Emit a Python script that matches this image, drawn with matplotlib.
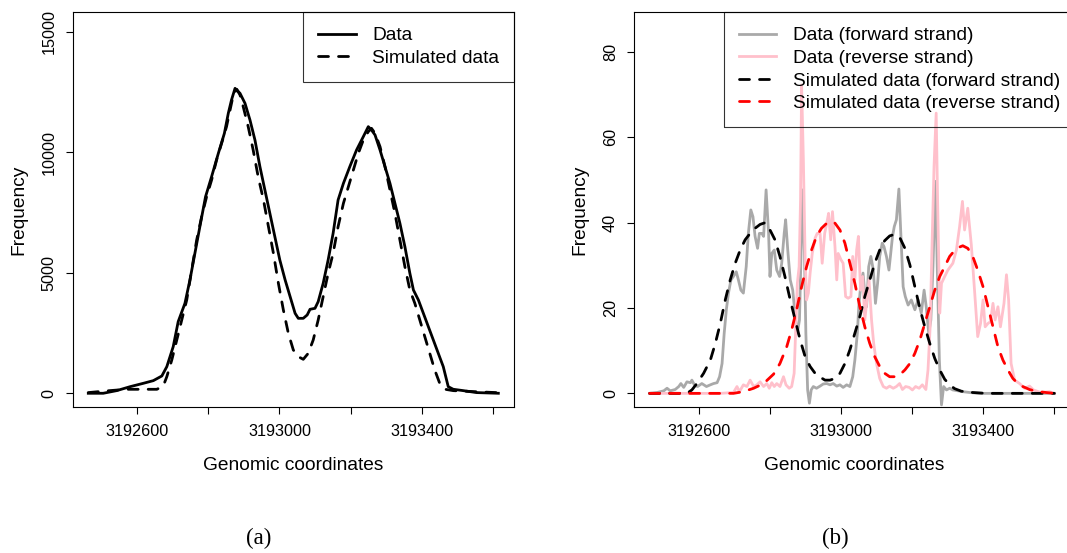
import numpy as np
import matplotlib
matplotlib.use("Agg")
import matplotlib.pyplot as plt

plt.rcParams['font.family'] = ['Liberation Sans', 'DejaVu Sans']

BASE = 3192000

# (a) total read coverage, observed vs simulated
cov_pos = BASE + np.array([462, 504, 542, 580, 617, 645, 669, 683, 701, 715, 734, 748, 762, 776, 792, 809, 828, 845,
                           856, 865, 875, 889, 903, 917, 931, 945, 959, 973, 987, 1001, 1016, 1030, 1044, 1053,
                           1067, 1078, 1086, 1100, 1109, 1123, 1137, 1151, 1165, 1180, 1198, 1217, 1236, 1250,
                           1259, 1269, 1283, 1297, 1311, 1325, 1339, 1353, 1367, 1377, 1391, 1405, 1419, 1433,
                           1447, 1461, 1475, 1489, 1517, 1555, 1616])
cov_freq = [0, 0, 110, 275, 414, 524, 718, 1105, 1935, 2972, 3733, 4700, 5807, 6914, 8158, 8988, 9956, 10786,
            11616, 12169, 12653, 12446, 12031, 11340, 10509, 9403, 8435, 7467, 6499, 5531, 4700, 4009, 3318, 3110,
            3110, 3249, 3484, 3525, 3802, 4562, 5531, 6637, 8020, 8711, 9403, 10095, 10648, 11063,
            10924, 10717, 10095, 9403, 8711, 7882, 7052, 6084, 4978, 4286, 3871, 3318, 2765, 2212,
            1658, 1105, 275, 166, 110, 28, 0]

sim_pos = BASE + np.array([462, 523, 570, 617, 655, 673, 683, 697, 711, 725, 739, 753, 767, 781, 795, 809, 823, 840,
                           851, 861, 870, 880, 889, 898, 912, 926, 940, 955, 969, 983, 997, 1011, 1025, 1039,
                           1053, 1067, 1081, 1095, 1109, 1123, 1137, 1151, 1165, 1180, 1194, 1208, 1222, 1236,
                           1250, 1259, 1269, 1283, 1297, 1311, 1325, 1339, 1353, 1367, 1381, 1395, 1409, 1423,
                           1437, 1451, 1466, 1489, 1545, 1611])
sim_freq = [28, 110, 165, 165, 165, 303, 690, 1382, 2212, 3041, 3871, 5116, 6360, 7328, 8158, 8850, 9680, 10509,
            11063, 11754, 12376, 12612, 12376, 11892, 11063, 10095, 8988, 8020, 6914, 5807, 4562, 3456, 2488, 1797,
            1520, 1409, 1658, 2212, 3041, 4009, 4977, 5807, 6914, 7882, 8573, 9265, 9956, 10509,
            10855, 10993, 10786, 10233, 9403, 8435, 7467, 6360, 5254, 4286, 3733, 3041, 2350, 1658,
            967, 414, 166, 110, 69, 28]

# (b) strand-specific coverage
fwd_pos = BASE + np.array([462, 483, 502, 511, 520, 534, 544, 550, 558, 567,
                           577, 581, 588, 597, 609, 622, 633, 642, 652, 659,
                           666, 672, 678, 684, 691, 698, 706, 712, 719, 726,
                           734, 740, 747, 753, 759, 766, 771, 778, 783, 790,
                           797, 801, 806, 813, 820, 828, 834, 841, 845, 851,
                           858, 865, 872, 878, 884, 888, 893, 898, 902, 907,
                           912, 917, 923, 932, 942, 951, 961, 970, 979, 989,
                           998, 1007, 1017, 1026, 1034, 1040, 1047, 1051, 1057, 1063,
                           1068, 1073, 1079, 1085, 1092, 1098, 1104, 1110, 1117, 1122,
                           1129, 1136, 1141, 1146, 1151, 1157, 1164, 1169, 1176, 1182,
                           1190, 1199, 1209, 1218, 1227, 1235, 1241, 1248, 1254, 1260,
                           1267, 1272, 1278, 1284, 1290, 1298, 1307, 1316, 1330, 1344,
                           1363, 1391, 1457, 1602])
fwd_freq = [0, 0.2, 0.6, 1.2, 0.6, 0.9, 1.6, 2.3, 1.4, 2.7,
            2.5, 3.1, 2.0, 1.6, 2.3, 1.6, 2.0, 2.3, 2.5, 3.9,
            7.0, 14.1, 19.6, 23.5, 26.6, 27.4, 28.5, 26.6, 24.2, 23.5,
            29.7, 37.5, 43.0, 41.4, 36.8, 34.0, 37.5, 37.5, 36.8, 47.7,
            37.5, 27.4, 32.8, 33.6, 28.9, 27.4, 30.5, 37.5, 40.7, 33.6,
            26.6, 24.2, 18.0, 14.1, 17.2, 31.3, 47.7, 32.8, 14.1, 0.8,
            -2.3, 0.8, 1.6, 1.2, 1.7, 2.2, 2.3, 2.0, 2.3, 1.7,
            2.0, 1.4, 2.0, 1.6, 3.9, 7.8, 14.1, 20.3, 25.8, 28.2,
            23.5, 20.3, 29.7, 32.1, 28.9, 21.1, 25.8, 32.1, 35.2, 34.4,
            32.1, 28.9, 32.8, 36.8, 39.1, 40.7, 47.9, 38.3, 25.0, 22.7,
            20.7, 21.9, 19.6, 21.9, 18.8, 24.2, 20.3, 14.1, 17.2, 29.7,
            49.7, 29.7, 7.8, -2.7, 1.6, 0.8, 1.2, 0.8, 0.6, 0.4,
            0.2, 0, 0, 0]

rev_pos = BASE + np.array([462, 567, 661, 698, 708, 715, 726, 736, 745, 755,
                           764, 773, 783, 792, 799, 806, 813, 820, 829, 839,
                           846, 855, 862, 869, 873, 878, 883, 887, 890, 895,
                           900, 904, 909, 914, 920, 928, 934, 942, 948, 955,
                           961, 966, 972, 977, 984, 989, 993, 1001, 1007, 1014,
                           1021, 1029, 1034, 1040, 1045, 1050, 1056, 1062, 1068, 1075,
                           1080, 1087, 1093, 1101, 1110, 1120, 1129, 1138, 1148, 1157,
                           1166, 1174, 1183, 1193, 1202, 1211, 1221, 1230, 1240, 1246,
                           1252, 1257, 1263, 1269, 1273, 1279, 1284, 1293, 1302, 1316,
                           1326, 1335, 1343, 1349, 1358, 1368, 1377, 1386, 1394, 1401,
                           1407, 1415, 1422, 1429, 1435, 1443, 1450, 1460, 1467, 1473,
                           1480, 1490, 1504, 1518, 1532, 1543, 1564, 1588, 1602])
rev_freq = [0, 0, 0, 0.2, 1.6, 0.4, 2.0, 1.6, 3.1, 1.6,
            2.0, 2.7, 1.6, 2.3, 1.2, 2.5, 1.6, 2.3, 1.6, 3.9,
            2.0, 1.2, 1.6, 4.7, 14.1, 25.8, 29.7, 45.4, 72.3, 54.7,
            31.3, 21.9, 23.5, 28.2, 32.8, 36.4, 37.5, 37.5, 30.5, 37.5,
            39.9, 42.2, 36.0, 42.6, 34.4, 26.6, 32.8, 31.3, 30.5, 22.7,
            22.3, 22.7, 32.1, 26.6, 33.6, 36.8, 24.2, 27.4, 17.2, 22.7,
            26.6, 17.2, 11.7, 7.0, 3.5, 1.6, 1.2, 1.7, 1.2, 1.6,
            2.3, 0.9, 1.6, 1.4, 0.8, 1.6, 1.2, 2.0, 0.9, 5.5,
            15.6, 33.6, 53.2, 65.7, 45.4, 18.8, 25.8, 27.4, 28.9, 30.5,
            33.6, 39.1, 45.0, 38.3, 43.4, 34.8, 24.2, 13.3, 16.4, 21.9,
            15.6, 16.4, 16.8, 21.1, 17.2, 20.3, 15.6, 21.1, 27.8, 21.9,
            7.0, 3.1, 2.3, 1.2, 1.7, 0.8, 0.2, 0.4, 0]

sim_fwd_pos = BASE + np.array([462, 567, 581, 595, 614, 633, 647, 661, 675, 689,
                               703, 717, 731, 745, 759, 773, 787, 801, 815, 829,
                               843, 858, 872, 886, 900, 914, 928, 942, 956, 970,
                               984, 998, 1012, 1026, 1040, 1054, 1068, 1082, 1096, 1110,
                               1124, 1138, 1152, 1166, 1181, 1195, 1209, 1223, 1237, 1251,
                               1265, 1279, 1293, 1307, 1321, 1340, 1372, 1410, 1602])
sim_fwd_freq = [0, 0, 0.8, 2.3, 4.7, 7.8, 11.7, 16.4, 21.9, 26.6,
                30.5, 33.6, 36.0, 37.5, 38.7, 39.6, 40.0, 38.3, 36.0, 32.1,
                27.4, 21.9, 17.2, 12.5, 8.6, 6.3, 4.7, 3.8, 3.1, 3.1,
                3.5, 4.7, 7.0, 10.2, 14.1, 18.0, 22.7, 26.6, 30.5, 33.6,
                35.8, 36.9, 37.3, 36.6, 34.0, 30.1, 25.0, 19.9, 15.6, 11.7,
                8.2, 5.5, 3.3, 2.0, 1.1, 0.5, 0.2, 0, 0]

sim_rev_pos = BASE + np.array([462, 698, 726, 755, 783, 811, 829, 848, 862, 876,
                               890, 904, 918, 932, 946, 961, 972, 984, 998, 1012,
                               1026, 1040, 1054, 1068, 1082, 1096, 1110, 1124, 1138, 1152,
                               1166, 1181, 1195, 1209, 1223, 1237, 1251, 1265, 1279, 1293,
                               1307, 1321, 1335, 1344, 1358, 1372, 1386, 1401, 1415, 1429,
                               1443, 1457, 1471, 1485, 1499, 1513, 1532, 1550, 1578, 1602])
sim_rev_freq = [0, 0, 0.4, 1.2, 2.3, 4.5, 7.0, 10.9, 14.9, 19.6,
                25.0, 29.7, 33.6, 36.8, 38.7, 39.9, 40.3, 39.9, 38.3, 35.2,
                30.5, 25.8, 20.3, 15.6, 11.7, 8.6, 6.3, 4.7, 3.9, 3.9,
                4.3, 5.5, 7.0, 9.4, 12.5, 16.4, 20.3, 24.2, 27.4, 29.7,
                32.1, 33.5, 34.3, 34.6, 34.0, 32.1, 28.9, 25.0, 20.3, 15.6,
                10.9, 7.8, 5.5, 3.5, 2.3, 1.6, 0.9, 0.5, 0.2, 0]

x_ticks = [3192600, 3192800, 3193000, 3193200, 3193400, 3193600]
x_ticklabels = ['3192600', '', '3193000', '', '3193400', '']
ya_ticks = [0, 5000, 10000, 15000]
yb_ticks = [0, 20, 40, 60, 80]

LW = 2.0
DASH = dict(dashes=(3.6, 3.6), dash_capstyle='round')


def r_axes(ax, yticks, ylim):
    ax.set_xlim(3192418, 3193660)
    ax.set_ylim(*ylim)
    ax.set_xticks(x_ticks, x_ticklabels)
    ax.set_yticks(yticks, [str(v) for v in yticks], rotation=90, va='center')
    ax.tick_params(direction='out', length=5, width=0.8, labelsize=11.7, colors='black')
    ax.tick_params(axis='x', pad=7)
    ax.tick_params(axis='y', pad=6.5)
    for s in ax.spines.values():
        s.set_linewidth(0.8)
    ax.set_xlabel('Genomic coordinates', fontsize=13.8, labelpad=13)
    ax.set_ylabel('Frequency', fontsize=13.8, labelpad=10.5)


def r_legend(ax):
    leg = ax.legend(loc='upper right', bbox_to_anchor=(1, 1), borderaxespad=0, fancybox=False,
                    edgecolor='black', facecolor='none', framealpha=None, fontsize=13.8,
                    handlelength=1.95, handletextpad=0.85, borderpad=0.78, labelspacing=0.27)
    leg.get_frame().set_linewidth(0.8)


fig = plt.figure(figsize=(10.67, 5.53), dpi=100)
ax1 = fig.add_axes([0.0681, 0.264, 0.4136, 0.7143])
ax2 = fig.add_axes([0.5942, 0.264, 0.4133, 0.7143])

ax1.plot(cov_pos, cov_freq, color='black', lw=LW, label='Data')
ax1.plot(sim_pos, sim_freq, color='black', lw=LW, label='Simulated data', **DASH)
r_axes(ax1, ya_ticks, (-570, 15820))
r_legend(ax1)

ax2.plot(fwd_pos, fwd_freq, color='#a9a9a9', lw=LW, label='Data (forward strand)')
ax2.plot(rev_pos, rev_freq, color='#ffc0cb', lw=LW, label='Data (reverse strand)')
ax2.plot(sim_fwd_pos, sim_fwd_freq, color='black', lw=LW, label='Simulated data (forward strand)', **DASH)
ax2.plot(sim_rev_pos, sim_rev_freq, color='red', lw=LW, label='Simulated data (reverse strand)', **DASH)
r_axes(ax2, yb_ticks, (-3.2, 89.4))
r_legend(ax2)

fig.text(259 / 1067, 1 - 538 / 553, '(a)', ha='center', va='center', family='Liberation Serif', fontsize=16.5)
fig.text(835 / 1067, 1 - 538 / 553, '(b)', ha='center', va='center', family='Liberation Serif', fontsize=16.5)

fig.savefig('out.png', dpi=100, facecolor='white')
